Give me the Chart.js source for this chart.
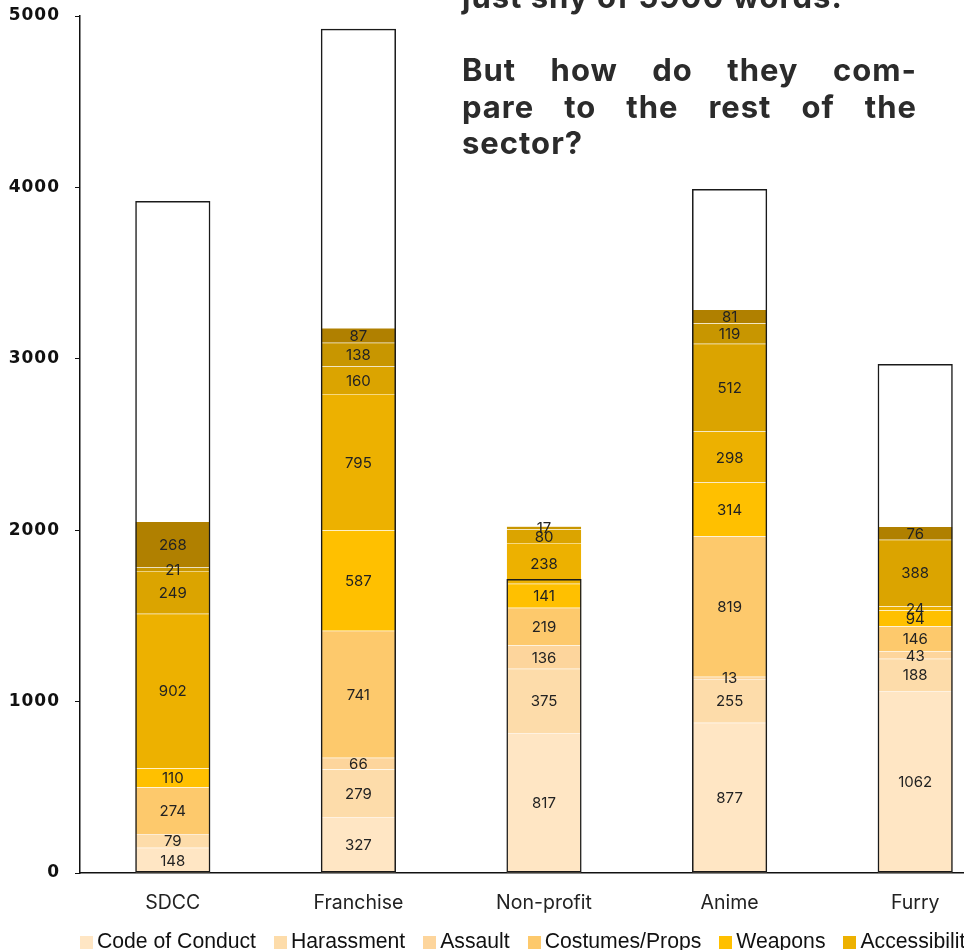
<!DOCTYPE html>
<html>
<head>
<meta charset="utf-8">
<script src="https://cdn.jsdelivr.net/npm/chart.js@4.4.1/dist/chart.umd.min.js"></script>
<style>
    html, body { margin: 0; padding: 0; background: #fff; }
    #wrap { position: relative; width: 964px; height: 950px; overflow: hidden; }
    #wordChart { position: absolute; left: 0; top: 0; }
    #note {
        position: absolute; left: 462px; top: -21px; width: 455px;
        font-family: Inter, sans-serif; font-weight: 700; font-size: 31px;
        letter-spacing: 1px; line-height: 36.5px; color: #2b2b2b;
    }
    #note .j { text-align: justify; text-align-last: justify; }
    #legend {
        position: absolute; left: 80px; top: 929px; white-space: nowrap;
        font-family: "Liberation Sans", Arial, sans-serif; font-size: 21.2px; color: #111;
    }
    #legend .item { display: inline-block; margin-right: 18px; }
    #legend .sw { display: inline-block; width: 13px; height: 13px; margin-right: 4px; vertical-align: -1px; }
</style>
</head>
<body>
<div id="wrap">
    <canvas id="wordChart" width="1010" height="950"></canvas>
    <div id="note">
        <div>just shy of 5900 words.</div>
        <div>&nbsp;</div>
        <div class="j">But how do they com-</div>
        <div class="j">pare to the rest of the</div>
        <div>sector?</div>
    </div>
    <div id="legend"></div>
</div>
<script>
const categories = ['SDCC', 'Franchise', 'Non-profit', 'Anime', 'Furry'];

const codeOfConduct = [148, 327, 817, 877, 1062];
const harassment    = [79, 279, 375, 255, 188];
const assault       = [0, 66, 136, 13, 43];
const costumes      = [274, 741, 219, 819, 146];
const weapons       = [110, 587, 141, 314, 94];
const accessibility = [902, 795, 238, 298, 24];
const photography   = [249, 160, 80, 512, 388];
const minors        = [21, 138, 17, 119, 0];
const enforcement   = [268, 87, 0, 81, 76];

const totalWords = [3920, 4925, 1715, 3990, 2970];

const yTicks = [0, 1000, 2000, 3000, 4000, 5000];

const series = [
    { name: 'Code of Conduct', data: codeOfConduct, color: '#FFE6C4' },
    { name: 'Harassment', data: harassment, color: '#FDDCAA' },
    { name: 'Assault', data: assault, color: '#FDD59C' },
    { name: 'Costumes/Props', data: costumes, color: '#FDC96C' },
    { name: 'Weapons', data: weapons, color: '#FFC000' },
    { name: 'Accessibility', data: accessibility, color: '#EDB100' },
    { name: 'Photography', data: photography, color: '#DBA400' },
    { name: 'Minors', data: minors, color: '#C89600' },
    { name: 'Enforcement', data: enforcement, color: '#B08000' }
];

// values written in the middle of each segment
const segmentLabels = {
    id: 'segmentLabels',
    afterDatasetsDraw(chart) {
        const ctx = chart.ctx;
        ctx.save();
        ctx.font = '15px Inter, sans-serif';
        ctx.fillStyle = '#222';
        ctx.textAlign = 'center';
        ctx.textBaseline = 'middle';
        chart.data.datasets.forEach(function(ds, i) {
            if (ds.stack !== 'parts') return;
            chart.getDatasetMeta(i).data.forEach(function(bar, j) {
                const v = ds.data[j];
                if (!v) return;
                ctx.fillText(String(v), bar.x, (bar.y + bar.base) / 2 + 1);
            });
        });
        ctx.restore();
    },
    afterDraw(chart) {
        // y tick labels, drawn with a little letter spacing
        const y = chart.scales.y;
        const ctx = chart.ctx;
        ctx.save();
        ctx.font = 'bold 17px "DejaVu Sans", sans-serif';
        ctx.letterSpacing = '1px';
        ctx.fillStyle = '#111';
        ctx.textAlign = 'right';
        ctx.textBaseline = 'middle';
        y.ticks.forEach(function(t, i) {
            ctx.fillText(String(t.value), 60, y.getPixelForTick(i));
        });
        ctx.restore();
    }
};

const datasets = series.map(function(s) {
    return {
        label: s.name,
        data: s.data,
        stack: 'parts',
        grouped: false,
        backgroundColor: s.color,
        borderColor: 'rgba(255,255,255,0.2)',
        borderWidth: 0.5,
        categoryPercentage: 1,
        barPercentage: 0.405
    };
});

datasets.push({
    label: 'Total words',
    data: totalWords,
    stack: 'total',
    grouped: false,
    order: -1,
    backgroundColor: 'rgba(0,0,0,0)',
    borderColor: '#1a1a1a',
    borderWidth: 1.5,
    borderSkipped: false,
    categoryPercentage: 1,
    barPercentage: 0.405
});

const ctx = document.getElementById('wordChart').getContext('2d');
new Chart(ctx, {
    type: 'bar',
    data: { labels: categories, datasets: datasets },
    plugins: [segmentLabels],
    options: {
        responsive: false,
        animation: false,
        devicePixelRatio: 1,
        layout: { padding: { top: 16, right: 2, left: 0, bottom: 0 } },
        plugins: { legend: { display: false }, tooltip: { enabled: false } },
        scales: {
            x: {
                stacked: true,
                grid: { display: false, drawTicks: false },
                border: { display: true, color: '#111', width: 1.5 },
                ticks: { color: '#222', padding: 18, font: { family: 'Inter', size: 19.5 } },
                afterFit: function(scale) { scale.height = 77; }
            },
            y: {
                stacked: true,
                min: 0,
                max: 5000,
                afterBuildTicks: function(scale) {
                    scale.ticks = yTicks.map(function(v) { return { value: v }; });
                },
                grid: { drawOnChartArea: false, drawTicks: true, tickLength: 5, color: '#111' },
                border: { display: true, color: '#111', width: 1.5 },
                ticks: { display: false },
                afterFit: function(scale) { scale.width = 80; }
            }
        }
    }
});

// legend in one line, clipped at the right edge like the source
const legend = document.getElementById('legend');
series.forEach(function(s) {
    const item = document.createElement('span');
    item.className = 'item';
    const sw = document.createElement('span');
    sw.className = 'sw';
    sw.style.background = s.color;
    item.appendChild(sw);
    item.appendChild(document.createTextNode(s.name));
    legend.appendChild(item);
});
</script>
</body>
</html>
